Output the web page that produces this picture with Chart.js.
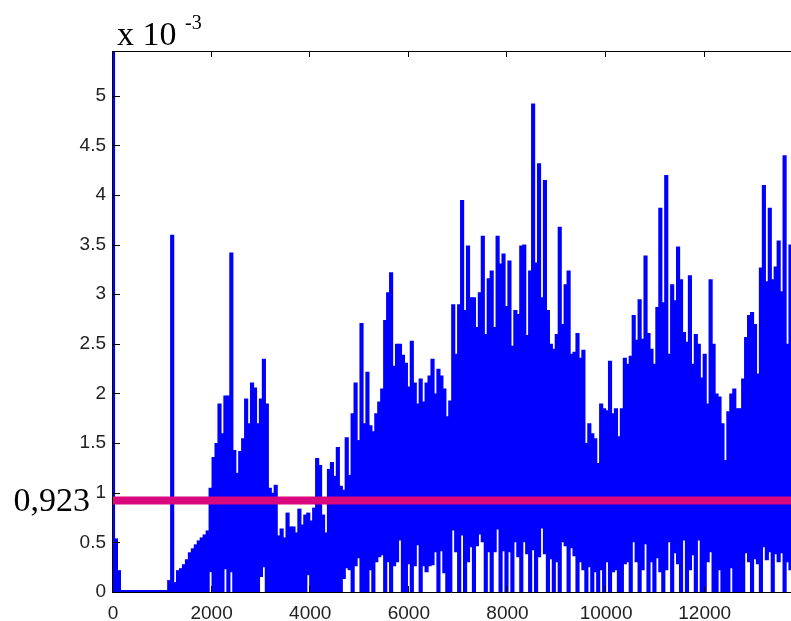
<!DOCTYPE html>
<html>
<head>
<meta charset="utf-8">
<style>
  html, body { margin: 0; padding: 0; background: #fff; }
  #wrap { position: relative; width: 791px; height: 621px; }
</style>
<script src="https://cdn.jsdelivr.net/npm/chart.js@4.4.1/dist/chart.umd.min.js"></script>
</head>
<body>
<div id="wrap"><canvas id="plot" width="791" height="621"></canvas></div>
<script>
// signal, one bar per 60 samples, values in units of 1e-3
const sampleStep = 60;

// upper envelope of each sample block
const highValues = [
    6.0, 0.54, 0.22, 0.02, 0.02, 0.02, 0.02, 0.02, 0.02, 0.02,
    0.02, 0.02, 0.02, 0.02, 0.02, 0.02, 0.02, 0.02, 0.02, 0.12,
    3.6, 0.1, 0.22, 0.24, 0.28, 0.33, 0.4, 0.44, 0.48, 0.52,
    0.55, 0.58, 0.62, 1.05, 1.36, 1.5, 1.9, 1.6, 1.98, 1.98,
    3.42, 1.43, 1.2, 1.42, 1.55, 1.95, 1.7, 2.11, 2.06, 1.7,
    1.95, 2.35, 1.9, 1.05, 1.0, 1.08, 0.57, 0.64, 0.55, 0.8,
    0.66, 0.66, 0.6, 0.84, 0.68, 0.78, 0.8, 0.72, 0.85, 1.35,
    1.28, 0.78, 0.6, 1.24, 1.31, 1.17, 1.46, 1.07, 1.03, 1.56,
    1.18, 1.8, 2.11, 1.53, 2.71, 1.7, 2.22, 1.68, 1.62, 1.8,
    1.92, 2.05, 2.74, 3.02, 3.22, 2.28, 2.5, 2.5, 2.39, 2.31,
    2.07, 2.53, 2.11, 1.9, 2.15, 1.92, 2.11, 2.18, 2.35, 2.0,
    2.25, 2.18, 2.05, 1.77, 1.93, 2.9, 2.4, 2.9, 3.95, 2.84,
    3.49, 2.97, 2.97, 2.67, 3.02, 3.59, 2.6, 3.16, 3.24, 2.67,
    3.59, 3.31, 3.41, 2.88, 3.34, 2.48, 2.84, 2.8, 3.49, 3.5,
    2.59, 3.24, 4.92, 3.32, 4.32, 2.97, 4.15, 2.84, 2.5, 2.45,
    2.6, 3.68, 2.7, 3.1, 3.24, 2.4, 2.42, 2.61, 2.36, 2.44,
    1.5, 1.7, 1.6, 1.55, 1.3, 1.9, 1.85, 1.83, 2.33, 1.8,
    1.85, 1.57, 1.85, 2.36, 2.3, 2.38, 2.79, 2.54, 2.95, 2.55,
    3.39, 2.61, 2.45, 2.3, 2.87, 3.87, 2.92, 4.2, 2.4, 3.1,
    2.94, 3.48, 3.15, 2.62, 2.52, 3.19, 2.3, 2.6, 2.5, 2.16,
    2.4, 1.9, 3.15, 2.5, 2.0, 1.97, 1.7, 1.33, 1.82, 2.0,
    2.05, 1.85, 1.85, 2.15, 2.57, 2.79, 2.82, 2.7, 2.2, 3.27,
    4.1, 3.13, 3.87, 3.15, 3.28, 3.54, 3.03, 4.4, 2.5, 3.5
];

// lower envelope (0 = signal reaches the axis)
const lowValues = [
    0, 0, 0, 0, 0, 0, 0, 0, 0, 0,
    0, 0, 0, 0, 0, 0, 0, 0, 0, 0,
    0, 0, 0, 0, 0, 0, 0, 0, 0, 0,
    0, 0, 0, 0.2, 0, 0, 0, 0, 0.23, 0,
    0.2, 0, 0, 0, 0, 0, 0, 0, 0, 0,
    0.15, 0.25, 0, 0, 0, 0, 0, 0, 0, 0,
    0, 0, 0, 0, 0, 0, 0.17, 0, 0, 0,
    0, 0, 0, 0, 0, 0, 0, 0, 0.13, 0.24,
    0.22, 0, 0.26, 0.34, 0, 0, 0, 0.22, 0, 0.3,
    0.35, 0.37, 0, 0.3, 0, 0.26, 0.3, 0.52, 0, 0,
    0.28, 0, 0.26, 0.47, 0, 0.26, 0.2, 0.26, 0.27, 0.4,
    0, 0.41, 0.19, 0, 0, 0.62, 0.4, 0, 0.57, 0,
    0.3, 0.45, 0, 0.46, 0.58, 0.5, 0, 0.4, 0, 0.4,
    0.63, 0, 0.41, 0, 0.4, 0, 0.5, 0.35, 0, 0.5,
    0.38, 0, 0.42, 0, 0.35, 0.64, 0.38, 0, 0.33, 0,
    0.3, 0, 0.5, 0.46, 0, 0.44, 0.36, 0, 0.3, 0.22,
    0, 0.25, 0, 0.2, 0, 0.22, 0, 0.3, 0, 0.2,
    0.22, 0, 0, 0.28, 0.3, 0, 0.5, 0.3, 0, 0.22,
    0.48, 0, 0.3, 0, 0.34, 0.2, 0, 0.22, 0.5, 0,
    0.39, 0.28, 0, 0.52, 0, 0.22, 0.37, 0, 0.52, 0,
    0, 0.3, 0.4, 0, 0, 0.22, 0, 0, 0, 0.24,
    0, 0, 0, 0, 0.39, 0.3, 0, 0.33, 0.28, 0,
    0.45, 0.32, 0.4, 0, 0.38, 0.3, 0.39, 0, 0.3, 0.22
];

const thresholdValue = 0.923;
const thresholdLabel = '0,923';
const xTicks = [0, 2000, 4000, 6000, 8000, 10000, 12000];
const yTicks = [0, 0.5, 1, 1.5, 2, 2.5, 3, 3.5, 4, 4.5, 5];
const xMax = 13750;
const yMax = 5.45;

// MATLAB style box: inner tick marks, top edge, exponent and threshold label
const matlabFrame = {
    id: 'matlabFrame',
    afterDatasetsDraw(chart) {
        const { ctx, chartArea: a, scales: { x, y } } = chart;
        ctx.save();
        ctx.strokeStyle = '#000';
        ctx.lineWidth = 1;
        ctx.beginPath();
        ctx.moveTo(a.left, a.top + 0.5);
        ctx.lineTo(a.right, a.top + 0.5);
        ctx.moveTo(a.left - 0.5, a.top);
        ctx.lineTo(a.left - 0.5, a.bottom + 1);
        ctx.moveTo(a.left - 1, a.bottom + 0.5);
        ctx.lineTo(a.right, a.bottom + 0.5);
        xTicks.forEach(v => {
            const px = Math.round(x.getPixelForValue(v)) - 0.5;
            ctx.moveTo(px, a.bottom);
            ctx.lineTo(px, a.bottom - 6);
            ctx.moveTo(px, a.top);
            ctx.lineTo(px, a.top + 6);
        });
        yTicks.forEach(v => {
            const py = Math.round(y.getPixelForValue(v)) + 0.5;
            ctx.moveTo(a.left, py);
            ctx.lineTo(a.left + 7, py);
        });
        ctx.stroke();

        ctx.fillStyle = '#000';
        ctx.font = '34px "Liberation Serif"';
        ctx.textAlign = 'right';
        ctx.textBaseline = 'alphabetic';
        ctx.fillText(thresholdLabel, a.left - 23, y.getPixelForValue(thresholdValue) + 11);
        ctx.textAlign = 'left';
        ctx.fillText('x 10', a.left + 4, a.top - 6);
        ctx.font = '20px "Liberation Serif"';
        ctx.fillText('-3', a.left + 72, a.top - 22);
        ctx.restore();
    }
};

const tickFont = { family: '"Liberation Sans", Arial, sans-serif', size: 19 };
const plainNumber = value => String(value);

new Chart(document.getElementById('plot'), {
    type: 'bar',
    data: {
        datasets: [
            {
                type: 'line',
                data: [{ x: 0, y: thresholdValue }, { x: xMax, y: thresholdValue }],
                borderColor: '#d9087f',
                borderWidth: 8,
                pointRadius: 0,
                order: 0
            },
            {
                type: 'bar',
                data: highValues.map((h, i) => ({ x: i * sampleStep, y: [lowValues[i], h] })),
                backgroundColor: '#0000ff',
                borderWidth: 0,
                barPercentage: 1.4,
                categoryPercentage: 1,
                order: 1
            }
        ]
    },
    options: {
        responsive: false,
        animation: false,
        events: [],
        layout: { padding: { top: 51, left: 0, right: 0, bottom: 0 } },
        plugins: {
            legend: { display: false },
            tooltip: { enabled: false }
        },
        scales: {
            x: {
                type: 'linear',
                min: 0,
                max: xMax,
                offset: false,
                grid: { display: false, drawTicks: false, offset: false },
                border: { display: false },
                ticks: { font: tickFont, color: '#222', padding: 10, maxRotation: 0, includeBounds: false, callback: plainNumber },
                afterBuildTicks(scale) {
                    scale.ticks = xTicks.map(v => ({ value: v }));
                },
                afterFit(scale) {
                    scale.height = 29;
                }
            },
            y: {
                min: 0,
                max: yMax,
                grid: { display: false, drawTicks: false },
                border: { display: false },
                ticks: { font: tickFont, color: '#222', padding: 7, includeBounds: false, callback: plainNumber },
                afterBuildTicks(scale) {
                    scale.ticks = yTicks.map(v => ({ value: v }));
                },
                afterFit(scale) {
                    scale.width = 113;
                }
            }
        }
    },
    plugins: [matlabFrame]
});
</script>
</body>
</html>
